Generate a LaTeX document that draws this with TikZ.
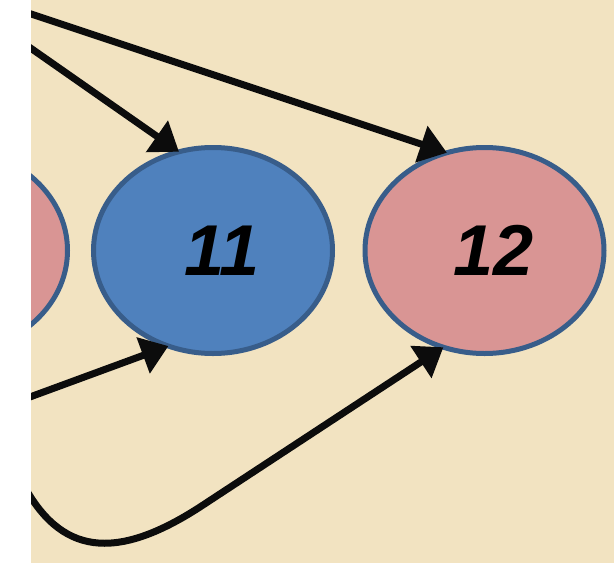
\documentclass[tikz,border=0pt]{standalone}
\usepackage{fontspec}
\setmainfont{Liberation Sans}
\usetikzlibrary{shapes.geometric,arrows.meta}
\definecolor{parch}{RGB}{242,227,193}
\definecolor{nodeblue}{RGB}{79,129,189}
\definecolor{nodepink}{RGB}{217,149,148}
\definecolor{nodeedge}{RGB}{56,93,138}
\definecolor{inkblack}{RGB}{12,12,12}
\tikzset{
  statenode/.style={ellipse, draw=nodeedge, line width=5pt, minimum width=239pt, minimum height=206pt, inner sep=0pt, outer sep=0pt, font=\fontsize{72}{72}\selectfont\bfseries\itshape},
  link/.style={draw=inkblack, line width=7pt, -{Triangle[length=27pt,width=37pt]}}
}
\begin{document}
\begin{tikzpicture}[x=1pt,y=-1pt]
\useasboundingbox (0,0) rectangle (614,563);
\fill[white] (0,0) rectangle (614,563);
\fill[parch] (31,0) rectangle (614,563);
\begin{scope}
\clip (31,0) rectangle (614,563);
\node[statenode, fill=nodepink] (n10) at (-52,250.5) {};
\node[statenode, fill=nodeblue] (n11) at (213,250.5) {\hspace*{18pt}11};
\node[statenode, fill=nodepink] (n12) at (484.5,250.5) {\hspace*{18pt}12};
\coordinate (s1) at (0,3.6);
\coordinate (s2) at (0,26.7);
\coordinate (s3) at (0,408);
\coordinate (s4) at (22,482);
\draw[link] (s1) -- (n12.111);
\draw[link] (s2) -- (n11.109);
\draw[link] (s3) -- (n11.245);
\draw[link] (s4) .. controls (60,555) and (115,562) .. (200,507) -- (n12.247);
\end{scope}
\end{tikzpicture}
\end{document}
